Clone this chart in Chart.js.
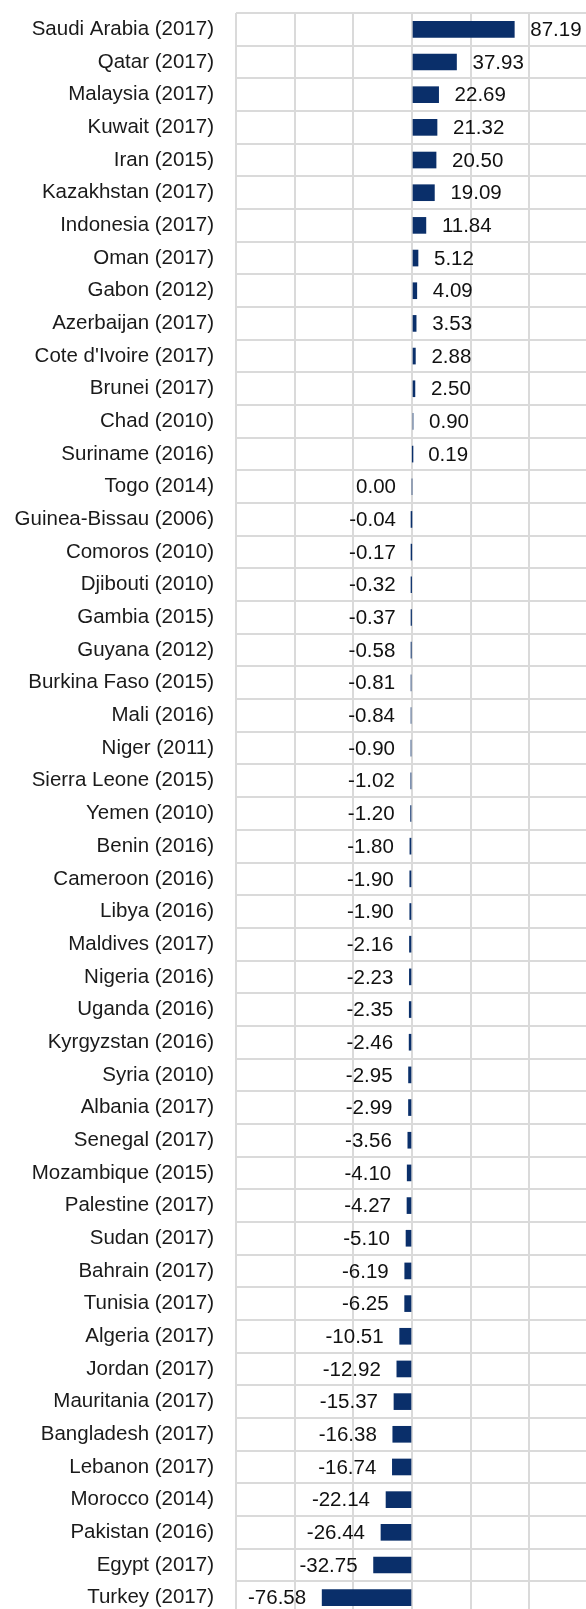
<!DOCTYPE html>
<html>
<head>
<meta charset="utf-8">
<script src="https://cdn.jsdelivr.net/npm/chart.js@4"></script>
<style>
    html, body { margin: 0; padding: 0; background: #fff; overflow: hidden; }
    #wrap { position: absolute; left: 0; top: 0; }
</style>
</head>
<body>
<div id="wrap"><canvas id="balanceChart" width="588" height="1614"></canvas></div>
<script>
const countries = ['Saudi Arabia (2017)', 'Qatar (2017)', 'Malaysia (2017)', 'Kuwait (2017)', 'Iran (2015)',
    'Kazakhstan (2017)', 'Indonesia (2017)', 'Oman (2017)', 'Gabon (2012)', 'Azerbaijan (2017)',
    "Cote d'Ivoire (2017)", 'Brunei (2017)', 'Chad (2010)', 'Suriname (2016)', 'Togo (2014)',
    'Guinea-Bissau (2006)', 'Comoros (2010)', 'Djibouti (2010)', 'Gambia (2015)', 'Guyana (2012)',
    'Burkina Faso (2015)', 'Mali (2016)', 'Niger (2011)', 'Sierra Leone (2015)', 'Yemen (2010)',
    'Benin (2016)', 'Cameroon (2016)', 'Libya (2016)', 'Maldives (2017)', 'Nigeria (2016)',
    'Uganda (2016)', 'Kyrgyzstan (2016)', 'Syria (2010)', 'Albania (2017)', 'Senegal (2017)',
    'Mozambique (2015)', 'Palestine (2017)', 'Sudan (2017)', 'Bahrain (2017)', 'Tunisia (2017)',
    'Algeria (2017)', 'Jordan (2017)', 'Mauritania (2017)', 'Bangladesh (2017)', 'Lebanon (2017)',
    'Morocco (2014)', 'Pakistan (2016)', 'Egypt (2017)', 'Turkey (2017)'];

const values = [87.19, 37.93, 22.69, 21.32, 20.50,
    19.09, 11.84, 5.12, 4.09, 3.53,
    2.88, 2.50, 0.90, 0.19, 0.00,
    -0.04, -0.17, -0.32, -0.37, -0.58,
    -0.81, -0.84, -0.90, -1.02, -1.20,
    -1.80, -1.90, -1.90, -2.16, -2.23,
    -2.35, -2.46, -2.95, -2.99, -3.56,
    -4.10, -4.27, -5.10, -6.19, -6.25,
    -10.51, -12.92, -15.37, -16.38, -16.74,
    -22.14, -26.44, -32.75, -76.58];

const axisMin = -150;
const axisMax = 150;
const axisStep = 50;

const FONT = '"Liberation Sans", Arial, sans-serif';

// value labels next to the bar ends
const valueLabels = {
    id: 'valueLabels',
    afterDatasetsDraw(chart) {
        const ctx = chart.ctx;
        const meta = chart.getDatasetMeta(0);
        ctx.save();
        ctx.font = '20.5px ' + FONT;
        ctx.fillStyle = '#111';
        ctx.textBaseline = 'middle';
        meta.data.forEach((bar, i) => {
            const v = values[i];
            if (v > 0) {
                ctx.textAlign = 'left';
                ctx.fillText(v.toFixed(2), bar.x + 16, bar.y + 1);
            } else {
                ctx.textAlign = 'right';
                ctx.fillText(v.toFixed(2), bar.x - 16, bar.y + 1);
            }
        });
        ctx.restore();
    }
};

function noPad(scale) {
    scale.paddingTop = 0;
    scale.paddingBottom = 0;
    scale.paddingLeft = 0;
    scale.paddingRight = 0;
}

let balanceChartEl = document.getElementById('balanceChart').getContext('2d');
let balanceChart = new Chart(balanceChartEl, {
    type: 'bar',
    data: {
        labels: countries,
        datasets: [
            {
                data: values,
                backgroundColor: '#0a2f6a',
                borderWidth: 0,
                barThickness: 16
            }
        ]
    },
    options: {
        indexAxis: 'y',
        responsive: false,
        animation: false,
        devicePixelRatio: 1,
        layout: {
            padding: { top: 13, right: 0, bottom: 0, left: 0 }
        },
        scales: {
            x: {
                min: axisMin,
                max: axisMax,
                ticks: { display: false, stepSize: axisStep },
                grid: { color: '#dadada', lineWidth: 2, drawTicks: false },
                border: { display: false },
                afterFit: (scale) => { scale.height = 0; noPad(scale); }
            },
            y: {
                ticks: {
                    color: '#1a1a1a',
                    padding: 22,
                    font: { family: FONT, size: 20.5 }
                },
                grid: { color: '#dadada', lineWidth: 2, drawTicks: false },
                border: { display: false },
                afterFit: (scale) => { scale.width = 236; noPad(scale); }
            }
        },
        plugins: {
            legend: { display: false },
            tooltip: { enabled: false }
        }
    },
    plugins: [valueLabels]
});
</script>
</body>
</html>
